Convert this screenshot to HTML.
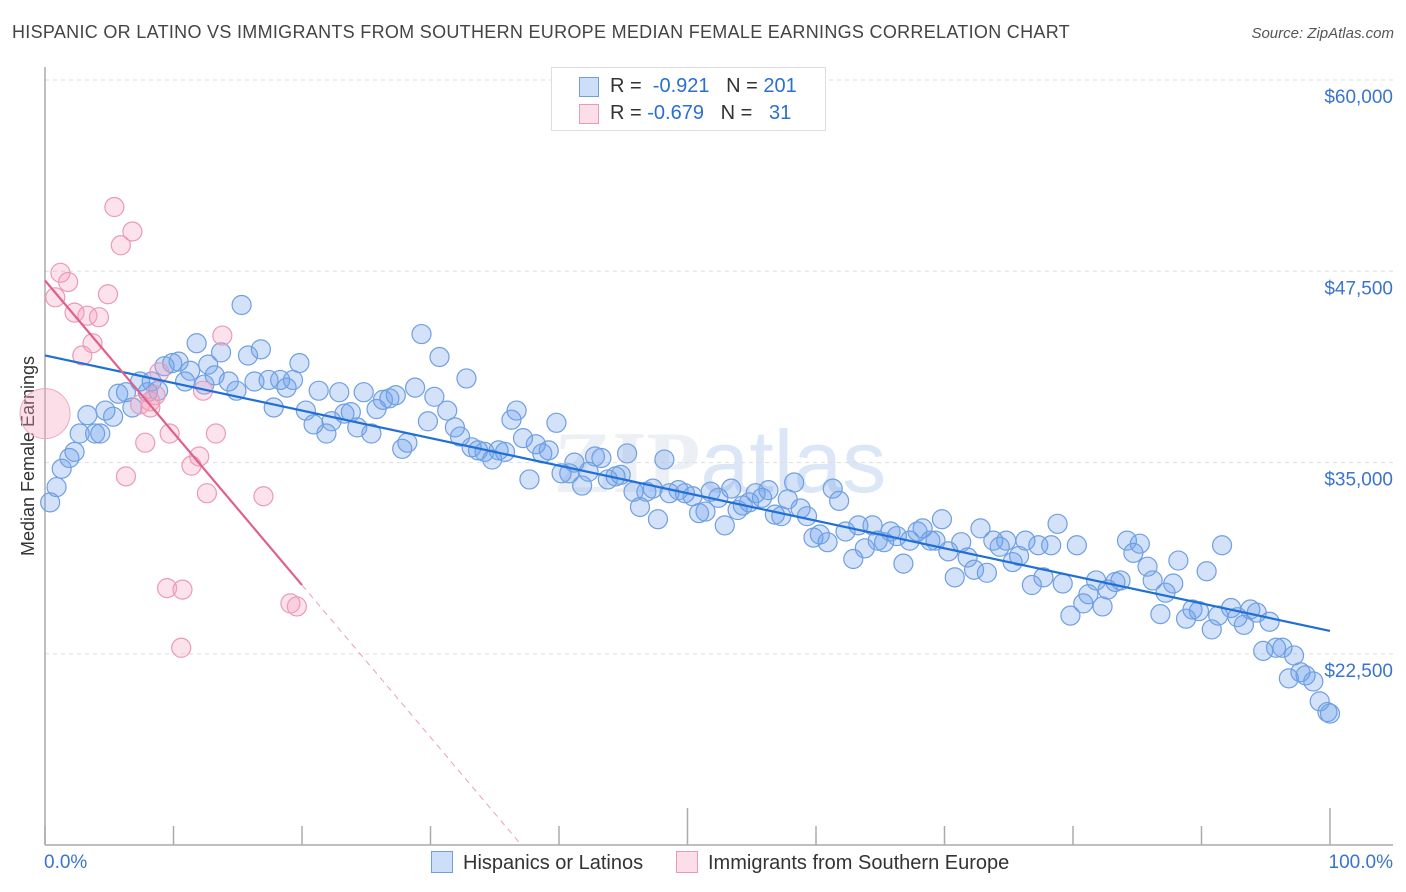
<!DOCTYPE html>
<html><head><meta charset="utf-8">
<style>
body{margin:0;background:#fff;font-family:"Liberation Sans",sans-serif;}
#wrap{position:relative;width:1406px;height:892px;overflow:hidden;}
.t{position:absolute;white-space:nowrap;}
</style></head>
<body>
<div id="wrap">
<div class="t" style="left:12px;top:22px;font-size:18px;letter-spacing:0.3px;color:#444;">HISPANIC OR LATINO VS IMMIGRANTS FROM SOUTHERN EUROPE MEDIAN FEMALE EARNINGS CORRELATION CHART</div>
<div class="t" style="right:12px;top:25px;font-size:15px;color:#555;font-style:italic;">Source: ZipAtlas.com</div>
<svg id="svg" width="1406" height="892" style="position:absolute;left:0;top:0"></svg>
</div>
<script>
const blueX=[0.4,0.9,1.3,1.9,2.3,2.7,3.3,3.9,4.3,4.7,5.3,5.7,6.3,6.8,7.4,8.0,8.3,8.8,9.3,9.9,10.4,10.9,11.3,11.8,12.4,12.7,13.2,13.7,14.3,14.9,15.3,15.8,16.3,16.8,17.4,17.8,18.3,18.8,19.3,19.8,20.3,20.9,21.3,21.9,22.3,22.9,23.3,23.8,24.3,24.8,25.4,25.8,26.3,26.8,27.3,27.8,28.2,28.8,29.3,29.8,30.3,30.7,31.3,31.9,32.3,32.8,33.2,33.7,34.2,34.8,35.3,35.8,36.3,36.7,37.2,37.7,38.2,38.7,39.2,39.8,40.2,40.8,41.2,41.8,42.3,42.8,43.3,43.8,44.4,44.8,45.3,45.8,46.3,46.8,47.3,47.7,48.2,48.6,49.3,49.8,50.4,50.9,51.4,51.8,52.4,52.9,53.4,53.9,54.3,54.8,55.3,55.8,56.3,56.8,57.3,57.8,58.3,58.8,59.3,59.8,60.3,60.9,61.3,61.8,62.3,62.9,63.3,63.8,64.4,64.8,65.3,65.8,66.3,66.8,67.3,67.9,68.3,68.9,69.3,69.8,70.3,70.8,71.3,71.8,72.3,72.8,73.3,73.8,74.3,74.8,75.3,75.8,76.3,76.8,77.3,77.7,78.3,78.8,79.2,79.8,80.3,80.8,81.2,81.8,82.3,82.7,83.3,83.7,84.2,84.7,85.2,85.8,86.2,86.8,87.2,87.8,88.2,88.8,89.3,89.8,90.4,90.8,91.3,91.6,92.3,92.8,93.3,93.8,94.3,94.8,95.3,95.8,96.3,96.8,97.2,97.7,98.1,98.7,99.2,99.8,100];
const blueY=[32400,33400,34600,35300,35700,36900,38100,36900,36900,38400,38000,39500,39600,38600,40300,39600,40300,39700,41300,41500,41600,40300,41000,42800,40100,41400,40700,42200,40300,39700,45300,42000,40300,42400,40400,38600,40400,39900,40400,41500,38400,37500,39700,36900,37700,39600,38200,38300,37300,39600,36900,38500,39100,39200,39400,35900,36300,39900,43400,37700,39300,41900,38400,37300,36700,40500,36000,35800,35700,35200,35800,35700,37800,38400,36600,33900,36200,35600,35800,37600,34300,34300,35000,33500,34400,35400,35300,33900,34100,34200,35600,33100,32100,33100,33300,31300,35200,33000,33200,33000,32800,31700,31800,33100,32700,30900,33300,31900,32200,32400,33000,32700,33200,31600,31500,32600,33700,32000,31500,30100,30300,29800,33300,32500,30500,28700,30900,29400,30900,29900,29800,30500,30200,28400,29900,30500,30700,29900,29900,31300,29200,27500,29800,28800,28000,30700,27800,29900,29500,29900,28500,28900,29900,27000,29600,27500,29600,31000,27100,25000,29600,25800,26400,27300,25600,26700,27200,27300,29900,29100,29700,28200,27300,25100,26500,27100,28600,24800,25400,25300,27900,24100,25000,29600,25500,24900,24400,25400,25200,22700,24600,22900,22900,20900,22400,21300,21100,20700,19400,18700,18600];
const pinkX=[1.2,1.8,0.8,2.3,3.3,4.2,4.9,5.4,5.9,6.8,3.7,2.9,8.9,8.6,8.2,13.8,12.3,7.4,8.2,9.7,7.8,13.3,12.0,11.4,6.3,12.6,17.0,9.5,10.7,10.6,19.1,19.6];
const pinkY=[47400,46800,45800,44800,44600,44500,46000,51700,49200,50100,42800,42000,40900,39400,39000,43300,39700,38800,38600,36900,36300,36900,35400,34800,34100,33000,32800,26800,26700,22900,25800,25600];
const bigPink=[0,38200];
const blueTrend=[42000,24000];
const pinkTrend=[46900,27000,20];
const yTicks=[60000,47500,35000,22500];
const yTickLabels=["$60,000","$47,500","$35,000","$22,500"];

const X0=45,X1=1330,YT=80,PX=191.3/12500;
const sx=v=>X0+(X1-X0)*v/100;
const sy=v=>YT+(60000-v)*PX;
const NS="http://www.w3.org/2000/svg";
const svg=document.getElementById('svg');
function mk(tag,attrs,parent){const e=document.createElementNS(NS,tag);for(const k in attrs)e.setAttribute(k,attrs[k]);(parent||svg).appendChild(e);return e;}

let wm=mk('text',{x:720,y:492,'text-anchor':'middle','font-size':88,fill:'#eceff4','font-family':'Liberation Serif, serif','font-weight':'bold'});


wm.innerHTML='ZIP<tspan font-family="Liberation Sans, sans-serif" font-weight="normal" fill="#dbe6f6">atlas</tspan>';

yTicks.forEach((v,i)=>{
  const g=mk('line',{x1:X0,x2:1393,y1:sy(v),y2:sy(v),stroke:'#ddd','stroke-dasharray':'4,4'});
  
  
  const t=mk('text',{x:1393,y:sy(v)+23,'text-anchor':'end','font-size':19,fill:'#3a74d0'});
  
  
  t.textContent=yTickLabels[i];
});
let ax=mk('line',{x1:X0,x2:X0,y1:67,y2:845,stroke:'#aaa','stroke-width':1.5});


let bx=mk('line',{x1:X0,x2:1393,y1:845,y2:845,stroke:'#aaa','stroke-width':1.5});


for(let i=0;i<=10;i++){
  const x=sx(i*10);const top=(i==5||i==10)?808:826;
  const tk=mk('line',{x1:x,x2:x,y1:top,y2:845,stroke:'#aaa','stroke-width':1.5});
  
  
}
let yt=mk('text',{x:34,y:456,'text-anchor':'middle','font-size':18,fill:'#333',transform:'rotate(-90 34 456)'});


yt.textContent='Median Female Earnings';

blueX.forEach((x,i)=>{
  const c=mk('circle',{cx:sx(x),cy:sy(blueY[i]),r:9.5,fill:'rgba(110,160,235,0.3)',stroke:'#6f9fe3','stroke-width':1.2});
  
  
});
let bp=mk('circle',{cx:sx(bigPink[0]),cy:sy(bigPink[1]),r:25,fill:'rgba(245,160,190,0.35)',stroke:'#f0a8c0','stroke-width':1});


pinkX.forEach((x,i)=>{
  const c=mk('circle',{cx:sx(x),cy:sy(pinkY[i]),r:9.5,fill:'rgba(245,160,190,0.3)',stroke:'#eb9ab6','stroke-width':1.2});
  
  
});
let bl=mk('line',{x1:sx(0),y1:sy(blueTrend[0]),x2:sx(100),y2:sy(blueTrend[1]),stroke:'#1f6fd6','stroke-width':2.2});


const slope=(pinkTrend[1]-pinkTrend[0])/pinkTrend[2];
let pl=mk('line',{x1:sx(0),y1:sy(pinkTrend[0]),x2:sx(pinkTrend[2]),y2:sy(pinkTrend[1]),stroke:'#e0608a','stroke-width':2.2});


const endX=(10000-pinkTrend[0])/slope;
let pd=mk('line',{x1:sx(pinkTrend[2]),y1:sy(pinkTrend[1]),x2:sx(endX),y2:sy(10000),stroke:'#e8a0b8','stroke-width':1,'stroke-dasharray':'6,5'});


</script>
<div class="t" style="left:551px;top:67px;width:273px;height:62px;border:1px solid #ddd;background:#fff;font-size:20px;color:#333;">
  <div style="position:absolute;left:27px;top:9px;width:18px;height:18px;background:rgba(110,160,235,0.35);border:1px solid #6f9fe3;"></div>
  <div class="t" style="left:58px;top:7px;">R = <span style="color:#2a6fd4">&nbsp;-0.921</span>&nbsp;&nbsp;&nbsp;N = <span style="color:#2a6fd4">201</span></div>
  <div style="position:absolute;left:27px;top:36px;width:18px;height:18px;background:rgba(245,160,190,0.35);border:1px solid #eb9ab6;"></div>
  <div class="t" style="left:58px;top:34px;">R = <span style="color:#2a6fd4">-0.679</span>&nbsp;&nbsp;&nbsp;N = <span style="color:#2a6fd4">&nbsp;&nbsp;31</span></div>
</div>
<div class="t" style="left:44px;top:852px;font-size:19px;color:#3a74d0;">0.0%</div>
<div class="t" style="right:13px;top:852px;font-size:19px;color:#3a74d0;">100.0%</div>
<div class="t" style="left:431px;top:851px;font-size:20px;color:#333;"><span style="display:inline-block;width:20px;height:20px;background:rgba(110,160,235,0.35);border:1px solid #6f9fe3;vertical-align:-4px;margin-right:10px;"></span>Hispanics or Latinos</div>
<div class="t" style="left:676px;top:851px;font-size:20px;color:#333;"><span style="display:inline-block;width:20px;height:20px;background:rgba(245,160,190,0.35);border:1px solid #eb9ab6;vertical-align:-4px;margin-right:10px;"></span>Immigrants from Southern Europe</div>
</body></html>
